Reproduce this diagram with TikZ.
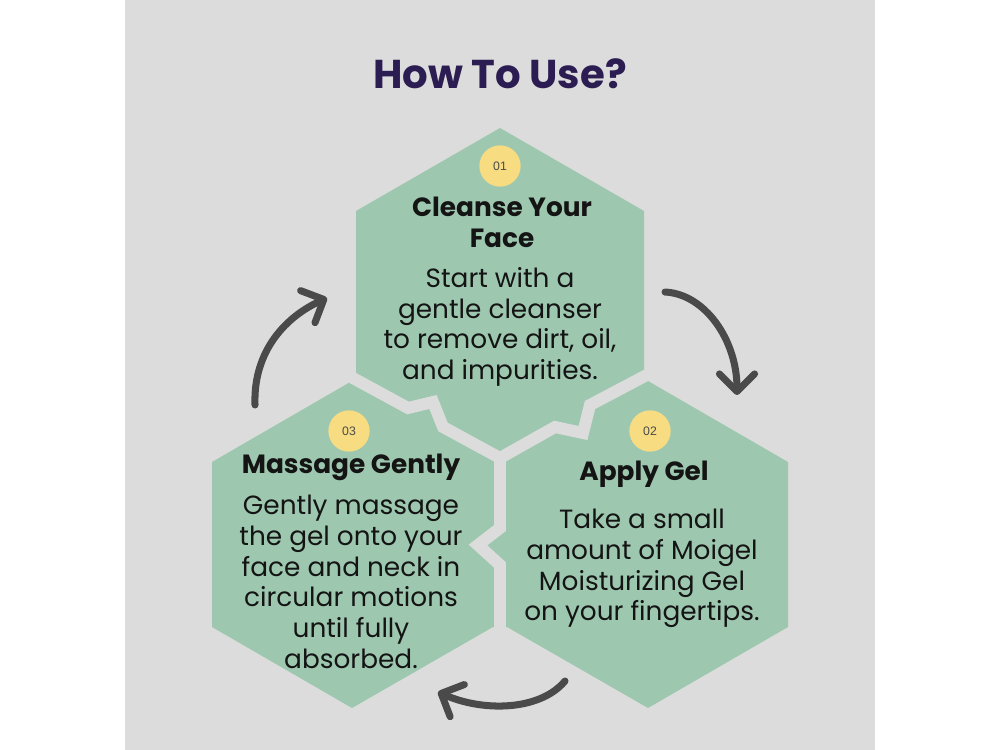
\documentclass[tikz,border=0pt]{standalone}
\usepackage{fontspec}
\setmainfont{Poppins}
\newfontfamily\numfont{Liberation Sans}
\usetikzlibrary{arrows.meta,positioning}

\definecolor{panelgray}{HTML}{DCDCDC}
\definecolor{hexgreen}{HTML}{9DC8AF}
\definecolor{badgeyellow}{HTML}{F7DC82}
\definecolor{titlepurple}{HTML}{2B1C52}
\definecolor{arrowgray}{HTML}{4A4A4A}
\definecolor{inkblack}{HTML}{141414}

\begin{document}
\begin{tikzpicture}[x=0.02cm,y=-0.02cm,
    crack/.style={draw=panelgray,line width=6.8pt},
    badge/.style={circle,fill=badgeyellow,minimum size=23.5pt,inner sep=0pt,
      text=arrowgray,font=\numfont\fontsize{7}{8}\selectfont},
    stephead/.style={anchor=north,inner sep=0pt,align=center,text=inkblack,
      font=\bfseries\fontsize{15}{17.6}\selectfont},
    stepbody/.style={anchor=north,inner sep=0pt,align=center,text=inkblack,
      font=\fontsize{15}{17.45}\selectfont},
    cycle arrow/.style={draw=arrowgray,line width=4pt,line cap=round,
      -{Straight Barb[length=10pt,width=20pt,round]}}]

    % Page and panel
    \fill[white] (0,0) rectangle (1000,750);
    \fill[panelgray] (125,0) rectangle (875,750);

    % Title
    \node[text=titlepurple,font=\bfseries\fontsize{22.9}{26}\selectfont] (title) at (500,74) {How To Use?};

    % Hexagons, then the cracks between them
    \fill[hexgreen] (500,128) -- (644,211) -- (644,377) -- (648,381) -- (788,462) -- (788,627)
        -- (648,708) -- (507,627) -- (500,631) -- (493,627) -- (352,708) -- (212,627)
        -- (212,462) -- (352,381) -- (356,377) -- (356,211) -- cycle;
    \draw[crack] (340,371) -- (408,408) -- (433,402) -- (443,427) -- (500,458)
        -- (555,427) -- (583,433) -- (590,405) -- (660,368);
    \draw[crack] (500,458) -- (500,528) -- (478,545) -- (500,565) -- (500,640);

    % Step 1
    \node[badge] (n1) at (500,166) {01};
    \node[stephead] (head1) at (502,197) {Cleanse Your\\Face};
    \node[stepbody] (body1) at (500,267) {Start with a\\gentle cleanser\\to remove dirt, oil,\\and impurities.};

    % Step 2
    \node[badge] (n2) at (650,431) {02};
    \node[stephead] (head2) at (644,461) {Apply Gel};
    \node[stepbody] (body2) at (642,509) {Take a small\\amount of Moigel\\Moisturizing Gel\\on your fingertips.};

    % Step 3
    \node[badge] (n3) at (349,431) {03};
    \node[stephead] (head3) at (351,454) {Massage Gently};
    \node[stepbody] (body3) at (351,495) {Gently massage\\the gel onto your\\face and neck in\\circular motions\\until fully\\absorbed.};

    % Arrows round the cycle
    \coordinate (a1s) at (665,292);
    \coordinate (a1e) at (737,395);
    \coordinate (a2s) at (565,681);
    \coordinate (a2e) at (438,692);
    \coordinate (a3s) at (255,405);
    \coordinate (a3e) at (327,298);
    \draw[cycle arrow] (a1s) .. controls +(40,2) and +(0,-55) .. (a1e);
    \draw[cycle arrow] (a2s) .. controls +(-25,30) and +(45,20) .. (a2e);
    \draw[cycle arrow] (a3s) .. controls +(-2,-55) and +(-40,18) .. (a3e);

\end{tikzpicture}
\end{document}
